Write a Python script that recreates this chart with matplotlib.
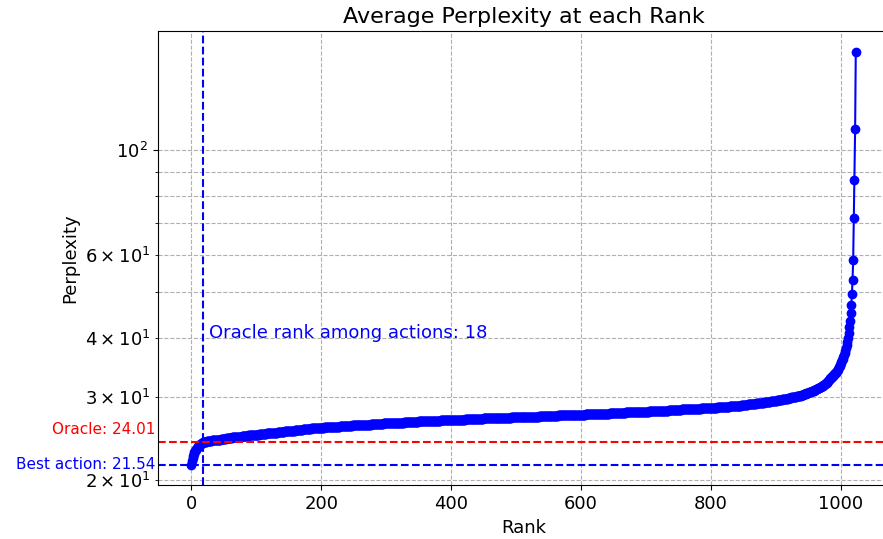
import numpy as np
import matplotlib
matplotlib.use("Agg")
import matplotlib.pyplot as plt

# ---- data (sorted average perplexity per rank) ----
head_values = [21.54, 21.95, 22.25, 22.5, 22.7, 22.88, 23.03, 23.17, 23.3, 23.41,
               23.5, 23.58, 23.65, 23.72, 23.78, 23.84, 23.9, 23.95, 24.01, 24.03]

# middle ranks: perplexity (rounded to 0.05) and number of ranks at that value
mid_levels = [24.05, 24.10, 24.15, 24.20, 24.25, 24.30, 24.35, 24.40, 24.45, 24.50,
              24.55, 24.60, 24.65, 24.70, 24.75, 24.80, 24.85, 24.90, 24.95, 25.00,
              25.05, 25.10, 25.15, 25.20, 25.25, 25.30, 25.35, 25.40, 25.45, 25.50,
              25.55, 25.60, 25.65, 25.70, 25.75, 25.80, 25.85, 25.90, 25.95, 26.00,
              26.05, 26.10, 26.15, 26.20, 26.25, 26.30, 26.35, 26.40, 26.45, 26.50,
              26.55, 26.60, 26.65, 26.70, 26.75, 26.80, 26.85, 26.90, 26.95, 27.00,
              27.05, 27.10, 27.15, 27.20, 27.25, 27.30, 27.35, 27.40, 27.45, 27.50,
              27.55, 27.60, 27.65, 27.70, 27.75, 27.80, 27.85, 27.90, 27.95, 28.00,
              28.05, 28.10, 28.15, 28.20, 28.25, 28.30, 28.35, 28.40, 28.45, 28.50,
              28.55, 28.60, 28.65, 28.70, 28.75, 28.80, 28.85, 28.90, 28.95, 29.00,
              29.05, 29.10, 29.15, 29.20, 29.25, 29.30, 29.35, 29.40, 29.45, 29.50,
              29.55, 29.60, 29.65, 29.70, 29.75, 29.80, 29.85, 29.90, 29.95, 30.00,
              30.05, 30.10, 30.15, 30.20, 30.25, 30.30, 30.35, 30.40, 30.45, 30.50,
              30.55]
mid_counts = [2, 2, 4, 4, 5, 5, 4, 4, 4, 4,
              5, 5, 5, 5, 5, 5, 5, 6, 6, 5,
              6, 6, 6, 5, 6, 5, 5, 6, 5, 6,
              6, 6, 7, 6, 7, 7, 6, 8, 10, 9,
              10, 9, 10, 10, 9, 10, 10, 11, 11, 11,
              11, 12, 11, 11, 11, 13, 14, 14, 14, 15,
              14, 14, 15, 14, 14, 14, 15, 14, 14, 14,
              12, 13, 12, 13, 12, 13, 12, 11, 10, 10,
              10, 10, 10, 10, 10, 10, 10, 9, 6, 6,
              6, 7, 6, 6, 6, 6, 4, 4, 4, 5,
              4, 4, 4, 3, 4, 3, 3, 4, 3, 3,
              3, 2, 3, 3, 3, 3, 2, 3, 2, 3,
              3, 2, 2, 1, 2, 1, 1, 2, 1, 1,
              1]

tail_values = [30.56, 30.6, 30.64, 30.68, 30.72, 30.76, 30.8, 30.84, 30.88, 30.93,
               30.97, 31.02, 31.07, 31.12, 31.17, 31.22, 31.27, 31.32, 31.36, 31.4,
               31.47, 31.54, 31.61, 31.68, 31.76, 31.84, 31.92, 32.0, 32.08, 32.17,
               32.26, 32.35, 32.45, 32.57, 32.7, 32.81, 32.92, 33.03, 33.15, 33.27,
               33.39, 33.52, 33.65, 33.78, 33.92, 34.06, 34.2, 34.41, 34.62, 34.84,
               35.07, 35.31, 35.56, 35.84, 36.15, 36.5, 36.85, 37.22, 37.6, 38.0,
               38.55, 39.2, 40.0, 40.9, 42.1, 43.5, 45.1, 46.9, 49.5, 53.0,
               58.5, 71.9, 86.5, 110.8, 161.6]

oracle_value = 24.01
best_value = 21.54
oracle_rank = 18

perplexity = np.concatenate([head_values,
                             np.repeat(mid_levels, mid_counts),
                             tail_values])
ranks = np.arange(len(perplexity))

# ---- figure ----
fig = plt.figure(figsize=(8.83, 5.39), dpi=100)
ax = fig.add_axes([158 / 883, 1 - 485.3 / 539, (889 - 158) / 883, (485.3 - 31.3) / 539])

ax.plot(ranks, perplexity, marker='o', color='blue')
ax.set_yscale('log')
ax.axhline(oracle_value, color='red', linestyle='--')
ax.axhline(best_value, color='blue', linestyle='--')
ax.axvline(oracle_rank, color='blue', linestyle='--')

ax.grid(True, which='both', linestyle='--')

ax.text(oracle_rank + 10, 40, f'Oracle rank among actions: {oracle_rank}',
        color='blue', fontsize=13, ha='left', va='baseline')
ax.text(-55, 25.6, f'Oracle: {oracle_value}', color='red', fontsize=11,
        ha='right', va='center')
ax.text(-55, best_value, f'Best action: {best_value}', color='blue', fontsize=11,
        ha='right', va='center')

ax.set_title('Average Perplexity at each Rank', fontsize=16)
ax.set_xlabel('Rank', fontsize=13)
ax.set_ylabel('Perplexity', fontsize=13)
ax.tick_params(axis='both', which='both', labelsize=13)

fig.savefig('out.png', dpi=100)
